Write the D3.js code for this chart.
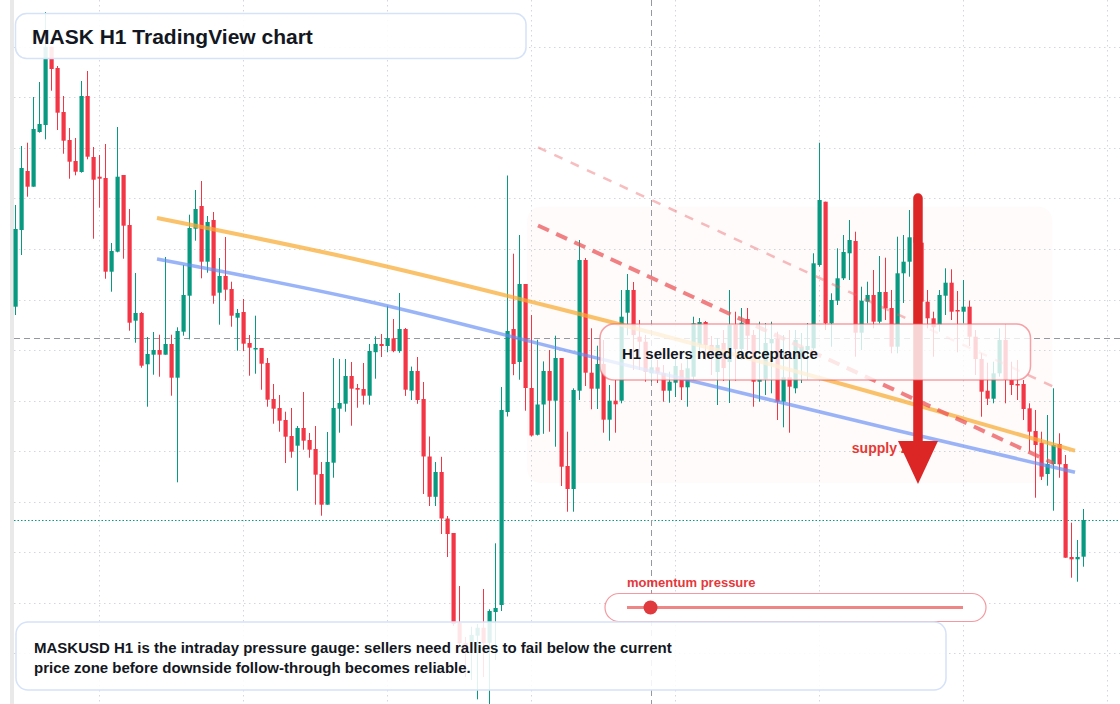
<!DOCTYPE html>
<html>
<head>
<meta charset="utf-8">
<script src="https://cdn.jsdelivr.net/npm/d3@7"></script>
<style>
html, body { margin: 0; padding: 0; background: #fff; }
svg { display: block; font-family: "Liberation Sans", Arial, sans-serif; }
</style>
</head>
<body>
<div id="chart"></div>
<script>
var width = 1120;
var height = 704;

// MASKUSD H1 candles, oldest first
var opens = [1.1933,1.2700,1.3290,1.3133,1.3680,1.3750,1.4533,1.4320,1.3880,1.3600,1.3390,1.3280,1.4040,1.3430,1.3233,1.3220,1.2283,1.2483,1.3250,1.2750,
  1.1793,1.1870,1.1357,1.1453,1.1500,1.1453,1.1560,1.1223,1.1683,1.2043,1.2713,1.2940,1.2383,1.2800,1.2073,1.2240,1.2110,1.1823,1.1880,1.1570,
  1.1510,1.1520,1.1370,1.1010,1.0920,1.0800,1.0640,1.0543,1.0720,1.0600,1.0510,1.0260,0.9953,1.0373,1.0913,1.0963,1.1240,1.1120,1.1110,1.1043,
  1.1478,1.1560,1.1540,1.1616,1.1489,1.1710,1.1093,1.1290,1.1010,1.0435,1.0032,1.0280,0.9815,0.9670,0.8770,0.8570,0.8583,0.8643,0.8723,0.8573,
  0.8880,0.8950,1.0880,1.1710,1.1380,1.2160,1.1120,1.0652,1.0955,1.1290,1.0993,1.1420,1.0340,1.0110,1.1093,1.2400,1.1273,1.1113,1.1360,1.0803,
  1.0993,1.0993,1.1873,1.2100,1.1633,1.1583,1.1267,1.1327,1.1267,1.1093,1.1173,1.1300,1.1127,1.1233,1.1550,1.1780,1.1550,1.1280,1.1570,1.1380,
  1.1750,1.1510,1.1810,1.1650,1.1183,1.1207,1.1567,1.1610,1.0983,1.1227,1.1117,1.1480,1.1500,1.1517,1.2350,1.2983,1.1767,1.1993,1.2217,1.2467,
  1.2590,1.1673,1.1983,1.2050,1.1783,1.2080,1.1920,1.1533,1.2267,1.2383,1.2627,1.2573,1.1983,1.1817,1.1750,1.2043,1.2173,1.1900,1.1883,1.1933,
  1.1633,1.1410,1.1093,1.1013,1.1267,1.1600,1.1200,1.1160,1.1160,1.0917,1.0690,1.0573,1.0260,1.0360,1.0560,1.0360,0.9430,0.9407,0.9433];
var highs = [1.2950,1.3540,1.3573,1.4030,1.4180,1.4880,1.4533,1.4340,1.4040,1.3720,1.3620,1.4190,1.4290,1.3530,1.3450,1.3560,1.2570,1.3730,1.3250,1.2910,
  1.2270,1.1880,1.1630,1.1680,1.1653,1.2430,1.1653,1.1727,1.2350,1.2853,1.3100,1.3190,1.2840,1.2880,1.2420,1.2630,1.2183,1.1910,1.2010,1.1650,
  1.1843,1.1520,1.1420,1.1160,1.1050,1.0883,1.0920,1.0740,1.1080,1.0670,1.0740,1.0380,1.0680,1.1420,1.1410,1.1410,1.1380,1.1160,1.1370,1.1560,
  1.1637,1.1660,1.1937,1.1810,1.2070,1.1720,1.1334,1.1430,1.1180,1.0635,1.0380,1.0432,0.9840,0.9670,0.9140,0.8630,0.8733,0.8760,0.9110,0.8907,
  0.9567,1.1130,1.3245,1.2463,1.2650,1.2160,1.1850,1.1602,1.1386,1.1500,1.1643,1.1420,1.0683,1.1117,1.2600,1.2420,1.1717,1.1543,1.1600,1.1150,
  1.1200,1.2100,1.2260,1.2180,1.1800,1.1650,1.1400,1.1400,1.1350,1.1283,1.1433,1.1367,1.1433,1.1833,1.1820,1.1790,1.1640,1.1620,1.1700,1.2100,
  1.1883,1.1920,1.1920,1.1700,1.1783,1.1770,1.1783,1.1683,1.1650,1.1700,1.1700,1.1670,1.1770,1.2467,1.3573,1.2983,1.2067,1.2517,1.2650,1.2800,
  1.2683,1.2133,1.2183,1.2300,1.2440,1.2423,1.2100,1.2633,1.2650,1.2900,1.2720,1.2650,1.2100,1.1883,1.2100,1.2317,1.2307,1.2090,1.2200,1.1993,
  1.1700,1.1467,1.1373,1.1383,1.1717,1.1760,1.1383,1.1400,1.1200,1.0967,1.0900,1.0683,1.0850,1.1117,1.0667,1.0450,0.9773,0.9600,0.9910];
var lows = [1.1850,1.2450,1.3033,1.3133,1.3673,1.3607,1.4093,1.3700,1.3463,1.3213,1.3247,1.3273,1.3407,1.2613,1.2923,1.2213,1.2083,1.2477,1.2413,1.1693,
  1.1573,1.1323,1.0933,1.1253,1.1233,1.1453,1.1043,1.0177,1.1643,1.1607,1.2593,1.2217,1.2273,1.1963,1.1753,1.1993,1.1733,1.1493,1.1490,1.1243,
  1.1263,1.1103,1.0933,1.0763,1.0683,1.0370,1.0423,1.0093,1.0503,1.0423,0.9953,0.9843,0.9953,1.0223,1.0673,1.0883,1.0743,1.0923,1.0955,1.0953,
  1.1213,1.1430,1.1478,1.1478,1.1472,1.1041,1.1000,1.0962,1.0060,0.9940,0.9940,0.9660,0.9430,0.8740,0.8540,0.8230,0.8200,0.8007,0.8230,0.7960,
  0.8400,0.8890,1.0835,1.1248,1.1203,1.0893,1.0635,1.0645,1.0662,1.0683,1.0533,1.0140,0.9883,0.9883,1.1000,1.1140,1.0907,1.0910,1.0673,1.0593,
  1.0673,1.0967,1.1647,1.1300,1.1300,1.1183,1.1183,1.1170,1.0983,1.0973,1.1030,1.1000,1.0933,1.1200,1.1480,1.1400,1.1250,1.0950,1.1190,1.0970,
  1.1193,1.1400,1.1500,1.0933,1.0983,1.1050,1.1067,1.0800,1.0727,1.0673,1.1067,1.1170,1.1200,1.1500,1.2333,1.1700,1.1533,1.1950,1.2200,1.2200,
  1.1433,1.1500,1.1767,1.1717,1.1767,1.1800,1.1467,1.1467,1.1970,1.2233,1.2500,1.1950,1.1717,1.1433,1.1683,1.1850,1.1800,1.1477,1.1767,1.1540,
  1.1250,1.0833,1.0950,1.0967,1.1233,1.0967,1.1050,1.1000,1.0800,1.0483,1.0023,1.0200,1.0143,0.9893,1.0223,0.9423,0.9223,0.9183,0.9333];
var closes = [1.2710,1.3320,1.3133,1.3710,1.3760,1.4533,1.4310,1.3873,1.3593,1.3383,1.3283,1.4040,1.3433,1.3203,1.3213,1.2283,1.2490,1.3233,1.2743,1.1773,
  1.1870,1.1343,1.1460,1.1500,1.1453,1.1560,1.1223,1.1690,1.2050,1.2720,1.2910,1.2383,1.2780,1.2043,1.2240,1.2103,1.1843,1.1870,1.1563,1.1523,
  1.1520,1.1363,1.1003,1.0913,1.0793,1.0633,1.0483,1.0720,1.0593,1.0503,1.0253,0.9953,1.0380,1.0920,1.0970,1.1240,1.1113,1.1103,1.1043,1.1490,
  1.1561,1.1540,1.1616,1.1489,1.1710,1.1103,1.1290,1.1000,1.0435,1.0032,1.0280,0.9815,0.9660,0.8760,0.8567,0.8500,0.8650,0.8723,0.8567,0.8890,
  0.8920,1.0900,1.1690,1.1360,1.2160,1.1120,1.0645,1.0955,1.1290,1.0993,1.1420,1.0333,1.0110,1.1100,1.2400,1.1273,1.1113,1.1360,1.0803,1.0993,
  1.0957,1.1833,1.2100,1.1650,1.1583,1.1280,1.1327,1.1267,1.1093,1.1183,1.1340,1.1127,1.1317,1.1767,1.1780,1.1550,1.1480,1.1550,1.1320,1.1750,
  1.1510,1.1773,1.1643,1.1183,1.1207,1.1570,1.1610,1.0983,1.1227,1.1133,1.1600,1.1530,1.1540,1.2367,1.3000,1.1767,1.2000,1.2217,1.2480,1.2600,
  1.1673,1.1993,1.2050,1.1783,1.2080,1.1917,1.1533,1.2267,1.2383,1.2627,1.2573,1.1983,1.1817,1.1727,1.2050,1.2173,1.1883,1.1890,1.1933,1.1633,
  1.1410,1.1083,1.1013,1.1267,1.1600,1.1200,1.1150,1.1153,1.0910,1.0683,1.0550,1.0233,1.0360,1.0550,1.0357,0.9423,0.9407,0.9430,0.9800];

// price grid levels and daily separators (candle index)
var gridPrices = [1.4533, 1.4027, 1.3522, 1.3016, 1.2511, 1.2005, 1.1500, 1.0994, 1.0489, 0.9983, 0.9478, 0.8972, 0.8467, 0.7961];
var gridCandles = [14, 38, 62, 86, 110, 134, 158, 182];

// drawings: [candle index, price]
var orangeTrend = [[23.5, 1.2820], [58, 1.2388], [90, 1.1920], [147, 1.1003], [176.5, 1.0493]];
var blueTrend = [[23.5, 1.2410], [58, 1.1995], [96, 1.1431], [147, 1.0693], [176.5, 1.0277]];
var supplyLine = [[87, 1.2745], [173, 1.0365]];
var upperLine = [[87, 1.3527], [173, 1.1130]];
var zoneBox = {from: 85.2, to: 172.7, top: 1.2933, bottom: 1.0170};
var arrowMark = {candle: 150.33, from: 1.302, to: 1.016};
var zoneLabelAt = {candle: 139.3, price: 1.047};
var crosshair = {candle: 106, price: 1.1617};
var momentumValue = 0.07;

var titleText = "MASK H1 TradingView chart";
var noteText = "H1 sellers need acceptance";
var zoneLabel = "supply zone";
var gaugeLabel = "momentum pressure";
var footerLines = ["MASKUSD H1 is the intraday pressure gauge: sellers need rallies to fail below the current",
  "price zone before downside follow-through becomes reliable."];

var green = "#089981", red = "#f23645";

var x = d3.scaleLinear().domain([0, 178]).range([16, 1084]);
var y = d3.scaleLinear().domain([1.5, 0.796]).range([0, 704]);

var svg = d3.select("#chart").append("svg")
  .attr("width", width).attr("height", height);

svg.append("rect").attr("width", width).attr("height", height).attr("fill", "#fff");

// grid
svg.append("g").selectAll("line").data(gridPrices).enter().append("line")
  .attr("x1", 14).attr("x2", width)
  .attr("y1", function(d) { return Math.round(y(d)) + 0.5; })
  .attr("y2", function(d) { return Math.round(y(d)) + 0.5; })
  .attr("stroke", "#d3d6dc").attr("stroke-dasharray", "1.5,3.5");
svg.append("g").selectAll("line").data(gridCandles).enter().append("line")
  .attr("x1", function(d) { return x(d) - 0.5; })
  .attr("x2", function(d) { return x(d) - 0.5; })
  .attr("y1", 0).attr("y2", height)
  .attr("stroke", "#d3d6dc").attr("stroke-dasharray", "1.5,3.5");

// left scale border
svg.append("rect").attr("x", 10).attr("y", 0).attr("width", 4).attr("height", height).attr("fill", "#e9e9ea");

// supply zone shading
svg.append("rect")
  .attr("x", x(zoneBox.from)).attr("y", y(zoneBox.top))
  .attr("width", x(zoneBox.to) - x(zoneBox.from))
  .attr("height", y(zoneBox.bottom) - y(zoneBox.top))
  .attr("rx", 14)
  .attr("fill", "rgba(235,150,120,0.04)");

// last price line
var lastY = Math.round(y(closes[closes.length - 1])) + 0.5;
svg.append("line").attr("x1", 14).attr("x2", width).attr("y1", lastY).attr("y2", lastY)
  .attr("stroke", green).attr("stroke-width", 1.2).attr("stroke-dasharray", "1.5,2");

// crosshair
var chY = Math.round(y(crosshair.price)) + 0.5;
svg.append("line").attr("x1", 14).attr("x2", width).attr("y1", chY).attr("y2", chY)
  .attr("stroke", "#9598a1").attr("stroke-dasharray", "6,4");
svg.append("line").attr("x1", x(crosshair.candle) - 0.5).attr("x2", x(crosshair.candle) - 0.5)
  .attr("y1", 0).attr("y2", height)
  .attr("stroke", "#9598a1").attr("stroke-dasharray", "6,4");

// candles
var candles = opens.map(function(o, i) {
  return {i: i, o: o, h: highs[i], l: lows[i], c: closes[i]};
});
var cg = svg.append("g").selectAll("g").data(candles).enter().append("g")
  .attr("fill", function(d) { return d.c >= d.o ? green : red; });
cg.append("rect")
  .attr("x", function(d) { return x(d.i) - 1; })
  .attr("width", 1)
  .attr("y", function(d) { return y(d.h); })
  .attr("height", function(d) { return Math.max(1, y(d.l) - y(d.h)); });
cg.append("rect")
  .attr("x", function(d) { return x(d.i) - 2.5; })
  .attr("width", 4.2)
  .attr("y", function(d) { return y(Math.max(d.o, d.c)); })
  .attr("height", function(d) { return Math.max(1.5, Math.abs(y(d.o) - y(d.c))); });

// trend lines
var trend = d3.line()
  .x(function(d) { return x(d[0]); })
  .y(function(d) { return y(d[1]); })
  .curve(d3.curveMonotoneX);
svg.append("path").attr("d", trend(orangeTrend)).attr("fill", "none")
  .attr("stroke", "rgba(247,170,50,0.72)").attr("stroke-width", 4);
svg.append("path").attr("d", trend(blueTrend)).attr("fill", "none")
  .attr("stroke", "rgba(100,140,245,0.65)").attr("stroke-width", 3.5);
svg.append("path").attr("d", trend(upperLine)).attr("fill", "none")
  .attr("stroke", "rgba(236,90,95,0.4)").attr("stroke-width", 2.5).attr("stroke-dasharray", "9,9");
svg.append("path").attr("d", trend(supplyLine)).attr("fill", "none")
  .attr("stroke", "rgba(236,80,85,0.72)").attr("stroke-width", 4).attr("stroke-dasharray", "12,8");

// supply label + arrow
svg.append("text").attr("x", x(zoneLabelAt.candle)).attr("y", y(zoneLabelAt.price))
  .attr("font-size", 14).attr("font-weight", "bold").attr("fill", "#e53935")
  .text(zoneLabel);
var ax = x(arrowMark.candle);
var tipY = y(arrowMark.to);
svg.append("line").attr("x1", ax).attr("x2", ax)
  .attr("y1", y(arrowMark.from)).attr("y2", tipY - 40)
  .attr("stroke", "#dc2626").attr("stroke-width", 9.5).attr("stroke-linecap", "round");
svg.append("path")
  .attr("d", "M" + (ax - 20) + "," + (tipY - 43) + "L" + (ax + 20) + "," + (tipY - 43) + "L" + ax + "," + tipY + "Z")
  .attr("fill", "#dc2626");

// boxes
svg.append("rect").attr("x", 15.5).attr("y", 13.5).attr("width", 510.5).attr("height", 45).attr("rx", 11)
  .attr("fill", "rgba(255,255,255,0.9)").attr("stroke", "#d5e2f7").attr("stroke-width", 1.5);
svg.append("text").attr("x", 32).attr("y", 43.5)
  .attr("font-size", 21).attr("font-weight", "bold").attr("fill", "#131722")
  .text(titleText);

svg.append("rect").attr("x", 600).attr("y", 324).attr("width", 430.5).attr("height", 56).attr("rx", 14)
  .attr("fill", "rgba(255,255,255,0.8)").attr("stroke", "rgba(236,85,95,0.55)").attr("stroke-width", 1.5);
svg.append("text").attr("x", 622).attr("y", 359)
  .attr("font-size", 15).attr("font-weight", "bold").attr("fill", "#131722")
  .text(noteText);

// momentum gauge
svg.append("text").attr("x", 627).attr("y", 586.5)
  .attr("font-size", 13).attr("font-weight", "bold").attr("fill", "#e5383b")
  .text(gaugeLabel);
svg.append("rect").attr("x", 605).attr("y", 593.5).attr("width", 381).attr("height", 28).attr("rx", 14)
  .attr("fill", "#fff").attr("stroke", "rgba(236,85,95,0.6)").attr("stroke-width", 1.2);
var gauge = d3.scaleLinear().domain([0, 1]).range([627, 963]);
svg.append("line").attr("x1", gauge(0)).attr("x2", gauge(1)).attr("y1", 607.5).attr("y2", 607.5)
  .attr("stroke", "#ef8686").attr("stroke-width", 3);
svg.append("circle").attr("cx", gauge(momentumValue)).attr("cy", 607.5).attr("r", 7)
  .attr("fill", "#e03a3e");

// footer note
svg.append("rect").attr("x", 16).attr("y", 622).attr("width", 930).attr("height", 68).attr("rx", 12)
  .attr("fill", "rgba(255,255,255,0.88)").attr("stroke", "#d5e2f7").attr("stroke-width", 1.5);
svg.append("g").selectAll("text").data(footerLines).enter().append("text")
  .attr("x", 34).attr("y", function(d, i) { return 652.5 + i * 20; })
  .attr("font-size", 15).attr("font-weight", "bold").attr("fill", "#131722")
  .text(function(d) { return d; });
</script>
</body>
</html>
